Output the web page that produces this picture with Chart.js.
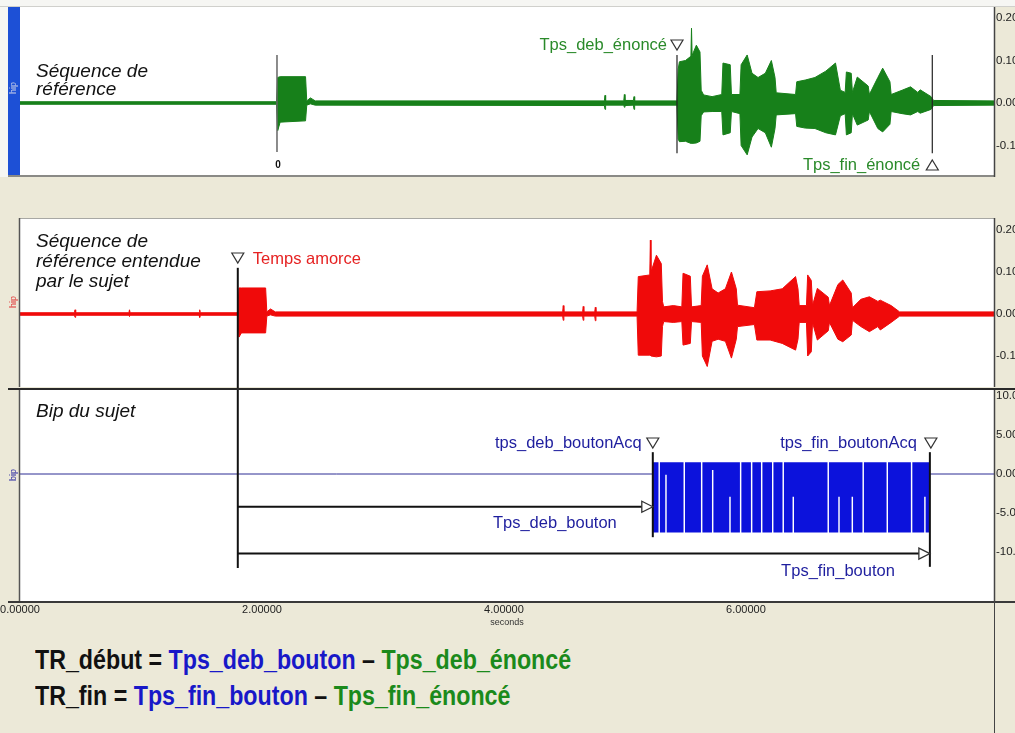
<!DOCTYPE html>
<html>
<head>
<meta charset="utf-8">
<title>TR début / TR fin</title>
<script src="https://cdn.jsdelivr.net/npm/chart.js@4.4.1/dist/chart.umd.min.js"></script>
<style>
  body { margin:0; background:#ece9d8; overflow:hidden; }
  #page { position:relative; width:1015px; height:733px; overflow:hidden; }
  canvas { position:absolute; left:0; }
  .rule { position:absolute; background:#444; }
  .formula { position:absolute; left:35px; font-family:"Liberation Sans", Arial, sans-serif; font-weight:bold;
             font-size:27px; line-height:27px; white-space:nowrap; transform:scaleX(0.86); transform-origin:0 0; color:#111; }
</style>
</head>
<body>
<div id="page">
  <canvas id="top" width="1040" height="178" style="top:0"></canvas>
  <canvas id="mid" width="1040" height="178" style="top:212px"></canvas>
  <canvas id="bot" width="1040" height="241" style="top:390px"></canvas>
  <div class="rule" style="left:994px;top:601px;width:1px;height:132px"></div>
  <div class="formula" style="top:647px">TR_début = <span style="color:#1818c8">Tps_deb_bouton</span> – <span style="color:#1b8a1b">Tps_deb_énoncé</span></div>
  <div class="formula" style="top:683px">TR_fin = <span style="color:#1818c8">Tps_fin_bouton</span> – <span style="color:#1b8a1b">Tps_fin_énoncé</span></div>
</div>
<script>
// reference sequence (green), envelope, seconds / volts
var greenTime = [0,2.12,2.13,2.15,2.36,2.37,2.40,2.44,4.83,4.835,4.84,4.99,4.995,5.00,5.07,5.075,5.08,5.43,5.44,5.45,5.50,5.545,5.55,5.555,5.59,5.62,5.63,5.65,5.72,5.80,5.81,5.87,5.88,5.95,5.96,6.01,6.05,6.10,6.16,6.21,6.24,6.25,6.41,6.42,6.49,6.57,6.66,6.74,6.78,6.82,6.83,6.87,6.88,6.92,7.01,7.02,7.09,7.13,7.19,7.20,7.29,7.36,7.42,7.44,7.53,7.55,8.05];
var greenTop = [.003,.003,.060,.062,.062,.005,.012,.005,.005,.018,.005,.005,.020,.006,.006,.015,.005,.005,.080,.097,.100,.110,.176,.112,.136,.120,.030,.019,.015,.020,.094,.090,.020,.020,.090,.113,.070,.060,.070,.100,.060,.024,.020,.050,.054,.060,.075,.094,.030,.025,.073,.070,.025,.061,.040,.020,.060,.082,.050,.020,.030,.038,.025,.031,.015,.006,.005];
var greenBottom = [-.003,-.003,-.065,-.045,-.042,-.005,-.002,-.005,-.006,-.015,-.005,-.005,-.010,-.006,-.005,-.015,-.005,-.005,-.085,-.091,-.090,-.095,-.095,-.095,-.094,-.090,-.030,-.021,-.020,-.020,-.075,-.070,-.020,-.025,-.100,-.122,-.080,-.060,-.070,-.104,-.060,-.028,-.025,-.055,-.059,-.060,-.070,-.075,-.030,-.025,-.075,-.070,-.025,-.052,-.040,-.020,-.060,-.068,-.050,-.020,-.025,-.028,-.020,-.024,-.015,-.006,-.005];

// sequence heard by the subject (red)
var redTime = [0,0.45,0.455,0.46,0.90,0.905,0.91,1.48,1.485,1.49,1.80,1.81,1.83,2.03,2.04,2.07,2.11,4.485,4.49,4.495,4.65,4.655,4.66,4.75,4.755,4.76,5.10,5.11,5.205,5.21,5.215,5.26,5.30,5.31,5.32,5.40,5.47,5.48,5.54,5.55,5.63,5.64,5.68,5.72,5.77,5.83,5.88,5.92,5.93,6.07,6.09,6.20,6.30,6.41,6.43,6.44,6.50,6.51,6.54,6.55,6.59,6.68,6.69,6.76,6.80,6.87,6.88,6.95,7.02,7.09,7.11,7.20,7.27,8.05];
var redTop = [.003,.003,.010,.003,.003,.010,.003,.003,.010,.003,.003,.062,.062,.062,.005,.012,.005,.005,.020,.005,.005,.018,.005,.005,.016,.005,.005,.089,.093,.176,.100,.140,.120,.030,.017,.020,.017,.097,.090,.017,.020,.090,.117,.060,.050,.060,.100,.060,.021,.015,.053,.055,.060,.089,.060,.020,.020,.093,.080,.020,.061,.040,.020,.070,.081,.050,.015,.035,.041,.030,.033,.020,.005,.005];
var redBottom = [-.003,-.003,-.008,-.003,-.003,-.006,-.003,-.003,-.008,-.003,-.003,-.055,-.045,-.045,-.005,-.002,-.005,-.005,-.015,-.005,-.005,-.015,-.005,-.005,-.016,-.005,-.005,-.098,-.098,-.098,-.100,-.102,-.100,-.030,-.018,-.020,-.018,-.074,-.070,-.018,-.020,-.100,-.125,-.065,-.060,-.065,-.105,-.060,-.030,-.025,-.062,-.062,-.070,-.086,-.060,-.020,-.020,-.100,-.090,-.020,-.062,-.040,-.020,-.060,-.066,-.050,-.015,-.030,-.042,-.030,-.038,-.020,-.005,-.005];

// subject's button (blue): square wave block with dropouts
var bipStart = 5.23, bipEnd = 7.52;
var bipHigh = 1.5, bipLow = -7.5;
var bipGapFull = [5.283,5.490,5.634,5.956,6.047,6.130,6.221,6.308,6.680,6.969,7.168,7.369];
var bipGapPart = [5.339,5.725,5.868,6.391,6.769,6.879,7.479];
var bipGapPartLevel = [-0.1,0.5,-2.9,-2.9,-2.9,-2.9,-2.9];

// markers (s)
var markZero = 2.124, markDebEnonce = 5.43, markFinEnonce = 7.54, markAmorce = 1.80;

var xTicks = [0,2,4,6];
var voltTicks = [0.2,0.1,0,-0.1];
var bipTicks = [10,5,0,-5,-10];

var FONT = '"Liberation Sans", Arial, sans-serif';
Chart.defaults.font.family = FONT;

function band(time, top, bottom, color) {
    return [
        { data: time.map(function (t, i) { return {x: t, y: top[i]}; }), borderColor: color, backgroundColor: color, borderWidth: 1, fill: '+1', pointRadius: 0 },
        { data: time.map(function (t, i) { return {x: t, y: bottom[i]}; }), borderColor: color, borderWidth: 1, fill: false, pointRadius: 0 }
    ];
}

// blue block envelope, built from the dropout lists
function bipBand() {
    var gaps = bipGapFull.map(function (t) { return [t, bipHigh]; })
        .concat(bipGapPart.map(function (t, i) { return [t, bipGapPartLevel[i]]; }))
        .sort(function (a, b) { return a[0] - b[0]; });
    var up = [{x: bipStart, y: bipHigh}], lo = [{x: bipStart, y: bipLow}];
    var w = 0.006;
    gaps.forEach(function (g) {
        up.push({x: g[0] - w, y: bipHigh}); lo.push({x: g[0] - w, y: bipLow});
        up.push({x: g[0] - w, y: bipHigh}); lo.push({x: g[0] - w, y: g[1]});
        up.push({x: g[0] + w, y: bipHigh}); lo.push({x: g[0] + w, y: g[1]});
        up.push({x: g[0] + w, y: bipHigh}); lo.push({x: g[0] + w, y: bipLow});
    });
    up.push({x: bipEnd, y: bipHigh}); lo.push({x: bipEnd, y: bipLow});
    return [
        { data: up, borderWidth: 0, backgroundColor: '#0c12dc', fill: '+1', pointRadius: 0 },
        { data: lo, borderWidth: 0, fill: false, pointRadius: 0 }
    ];
}

function options(yMin, yMax, yTicks, digits, padTop, padBottom, showX) {
    return {
        responsive: false, animation: false, events: [],
        layout: { padding: { left: 20, top: padTop, bottom: padBottom, right: 0 } },
        plugins: { legend: { display: false }, tooltip: { enabled: false } },
        elements: { line: { tension: 0 } },
        scales: {
            x: {
                type: 'linear', min: 0, max: 8.05, display: showX,
                grid: { display: false, drawTicks: false }, border: { display: false },
                afterBuildTicks: function (s) { s.ticks = xTicks.map(function (v) { return {value: v}; }); },
                afterFit: function (s) { s.height = showX ? 30 : 0; s.paddingLeft = 0; s.paddingRight = 0; },
                ticks: { padding: 2, color: '#222', font: { size: 11 }, maxRotation: 0, autoSkip: false,
                         callback: function (v) { return v.toFixed(5); } },
                title: { display: true, text: 'seconds', color: '#333', font: { size: 9 }, padding: { top: 0, bottom: 3 } }
            },
            y: {
                position: 'right', min: yMin, max: yMax,
                grid: { display: false, drawTicks: false }, border: { display: false },
                afterBuildTicks: function (s) { s.ticks = yTicks.map(function (v) { return {value: v}; }); },
                afterFit: function (s) { s.width = 46; s.paddingTop = 0; s.paddingBottom = 0; },
                ticks: { padding: 2, color: '#222', font: { size: 11.5 }, callback: function (v) { return v.toFixed(digits); } }
            }
        }
    };
}

// little drawing helpers
function vline(ctx, x, y1, y2, color, width) {
    ctx.beginPath(); ctx.moveTo(x, y1); ctx.lineTo(x, y2);
    ctx.strokeStyle = color; ctx.lineWidth = width; ctx.stroke();
}
function hline(ctx, x1, x2, y, color, width) {
    ctx.beginPath(); ctx.moveTo(x1, y); ctx.lineTo(x2, y);
    ctx.strokeStyle = color; ctx.lineWidth = width; ctx.stroke();
}
function tri(ctx, x, y, down) {
    ctx.beginPath();
    if (down) { ctx.moveTo(x - 6, y); ctx.lineTo(x + 6, y); ctx.lineTo(x, y + 10); }
    else { ctx.moveTo(x, y); ctx.lineTo(x + 6, y + 10); ctx.lineTo(x - 6, y + 10); }
    ctx.closePath(); ctx.fillStyle = '#fff'; ctx.fill();
    ctx.strokeStyle = '#333'; ctx.lineWidth = 1.2; ctx.stroke();
}
function arrow(ctx, x1, x2, y) {
    hline(ctx, x1, x2 - 10, y, '#111', 2);
    ctx.beginPath(); ctx.moveTo(x2, y); ctx.lineTo(x2 - 11, y - 5.5); ctx.lineTo(x2 - 11, y + 5.5); ctx.closePath();
    ctx.fillStyle = '#fff'; ctx.fill(); ctx.strokeStyle = '#333'; ctx.lineWidth = 1.3; ctx.stroke();
}
function label(ctx, txt, x, y, color, font, align) {
    ctx.font = font; ctx.fillStyle = color; ctx.textAlign = align || 'left'; ctx.textBaseline = 'alphabetic';
    ctx.fillText(txt, x, y);
}
function sideTag(ctx, txt, y, color) {
    ctx.save(); ctx.translate(14, y); ctx.rotate(-Math.PI / 2);
    ctx.font = '9px ' + FONT; ctx.fillStyle = color; ctx.textAlign = 'center'; ctx.textBaseline = 'middle';
    ctx.fillText(txt, 0, 0); ctx.restore();
}
function panel(chart) {
    var a = chart.chartArea, ctx = chart.ctx;
    ctx.fillStyle = '#fff'; ctx.fillRect(a.left, a.top, a.right - a.left, a.bottom - a.top);
}

var TITLE = 'italic 19px ' + FONT, TAG = '16.5px ' + FONT;
var GREEN_TXT = '#2a8a2a', RED_TXT = '#e62222', BLUE_TXT = '#1e1e9e';

// ---- top: reference sequence
new Chart(document.getElementById('top'), {
    type: 'line',
    data: { datasets: band(greenTime, greenTop, greenBottom, '#17801a') },
    options: options(-0.1694, 0.2259, voltTicks, 5, 7, 3, false),
    plugins: [{
        id: 'topDeco',
        beforeDraw: function (chart) {
            var ctx = chart.ctx, a = chart.chartArea;
            ctx.save();
            ctx.fillStyle = '#f6f6f3'; ctx.fillRect(0, 0, 1040, a.top); ctx.fillRect(0, 0, 8, a.bottom + 2);
            hline(ctx, 0, 1040, a.top - 0.5, '#d0d0cc', 1);
            panel(chart);
            ctx.fillStyle = '#1d50d6'; ctx.fillRect(8, a.top, a.left - 8, a.bottom - a.top);
            sideTag(ctx, 'hip', 88, '#c4cce8');
            ctx.restore();
        },
        afterDatasetsDraw: function (chart) {
            var ctx = chart.ctx, x = chart.scales.x, y = chart.scales.y;
            ctx.save();
            vline(ctx, x.getPixelForValue(markZero), y.getPixelForValue(0.113), y.getPixelForValue(-0.115), '#666', 1.5);
            var xd = x.getPixelForValue(markDebEnonce), xf = x.getPixelForValue(markFinEnonce);
            vline(ctx, xd, y.getPixelForValue(0.113), y.getPixelForValue(-0.118), '#222', 1.2);
            vline(ctx, xf, y.getPixelForValue(0.113), y.getPixelForValue(-0.118), '#222', 1.2);
            label(ctx, 'Séquence de', 36, 77, '#111', TITLE);
            label(ctx, 'référence', 36, 95, '#111', TITLE);
            label(ctx, '0', x.getPixelForValue(markZero) + 1, 168, '#111', 'bold 10px ' + FONT, 'center');
            tri(ctx, xd, 40, true);
            label(ctx, 'Tps_deb_énoncé', xd - 10, 50, GREEN_TXT, TAG, 'right');
            tri(ctx, xf, 160, false);
            label(ctx, 'Tps_fin_énoncé', xf - 12, 170, GREEN_TXT, TAG, 'right');
            ctx.restore();
        },
        afterDraw: function (chart) {
            var ctx = chart.ctx, a = chart.chartArea;
            ctx.save();
            hline(ctx, 8, a.right, a.bottom + 1, '#8a8a86', 2);
            vline(ctx, a.right + 0.5, a.top, a.bottom + 2, '#444', 1.5);
            ctx.restore();
        }
    }]
});

// ---- middle: sequence heard by the subject
new Chart(document.getElementById('mid'), {
    type: 'line',
    data: { datasets: band(redTime, redTop, redBottom, '#f00a0a') },
    options: options(-0.1738, 0.2262, voltTicks, 5, 7, 3, false),
    plugins: [{
        id: 'midDeco',
        beforeDraw: function (chart) {
            var ctx = chart.ctx;
            ctx.save(); panel(chart); sideTag(ctx, 'hip', 90, '#e03a3a'); ctx.restore();
        },
        afterDatasetsDraw: function (chart) {
            var ctx = chart.ctx, x = chart.scales.x, y = chart.scales.y, a = chart.chartArea;
            var xa = x.getPixelForValue(markAmorce);
            ctx.save();
            vline(ctx, xa, y.getPixelForValue(0.11), a.bottom + 3, '#111', 2);
            label(ctx, 'Séquence de', 36, 35, '#111', TITLE);
            label(ctx, 'référence entendue', 36, 55, '#111', TITLE);
            label(ctx, 'par le sujet', 36, 75, '#111', TITLE);
            tri(ctx, xa, 41, true);
            label(ctx, 'Temps amorce', xa + 15, 52, RED_TXT, TAG);
            ctx.restore();
        },
        afterDraw: function (chart) {
            var ctx = chart.ctx, a = chart.chartArea;
            ctx.save();
            hline(ctx, a.left, a.right, a.top - 0.5, '#a8a8a4', 1);
            vline(ctx, a.left - 0.5, a.top - 1, a.bottom, '#555', 1.5);
            vline(ctx, a.right + 0.5, a.top - 1, a.bottom, '#444', 1.5);
            hline(ctx, 8, 1040, a.bottom + 2, '#2a2a2a', 2.2);
            ctx.restore();
        }
    }]
});

// ---- bottom: subject's button
var bipBase = [{x: 0, y: 0}, {x: bipStart, y: 0}, {x: bipStart, y: null}, {x: bipEnd, y: null}, {x: bipEnd, y: 0}, {x: 8.05, y: 0}];
new Chart(document.getElementById('bot'), {
    type: 'line',
    data: { datasets: [{ data: bipBase, borderColor: '#2c2c94', borderWidth: 1, pointRadius: 0, fill: false, spanGaps: false }].concat(bipBand()) },
    options: options(-16.28, 10.77, bipTicks, 4, 0, 0, true),
    plugins: [{
        id: 'botDeco',
        beforeDraw: function (chart) {
            var ctx = chart.ctx;
            ctx.save(); panel(chart); sideTag(ctx, 'bip', 85, '#2a2aa0'); ctx.restore();
        },
        afterDatasetsDraw: function (chart) {
            var ctx = chart.ctx, x = chart.scales.x, y = chart.scales.y, a = chart.chartArea;
            var xa = x.getPixelForValue(markAmorce), xd = x.getPixelForValue(bipStart), xf = x.getPixelForValue(bipEnd);
            ctx.save();
            vline(ctx, xa, a.top, y.getPixelForValue(-12.05), '#111', 2);
            vline(ctx, xd, y.getPixelForValue(2.8), y.getPixelForValue(-8.1), '#111', 2);
            vline(ctx, xf, y.getPixelForValue(2.8), y.getPixelForValue(-11.9), '#111', 2);
            arrow(ctx, xa, xd, y.getPixelForValue(-4.2));
            arrow(ctx, xa, xf, y.getPixelForValue(-10.2));
            label(ctx, 'Bip du sujet', 36, 27, '#111', TITLE);
            tri(ctx, xd, 48, true);
            label(ctx, 'tps_deb_boutonAcq', xd - 11, 58, BLUE_TXT, TAG, 'right');
            tri(ctx, xf + 1, 48, true);
            label(ctx, 'tps_fin_boutonAcq', xf - 13, 58, BLUE_TXT, TAG, 'right');
            label(ctx, 'Tps_deb_bouton', xd - 36, 138, BLUE_TXT, TAG, 'right');
            label(ctx, 'Tps_fin_bouton', xf - 35, 186, BLUE_TXT, TAG, 'right');
            ctx.restore();
        },
        afterDraw: function (chart) {
            var ctx = chart.ctx, a = chart.chartArea;
            ctx.save();
            vline(ctx, a.left - 0.5, a.top, a.bottom, '#555', 1.5);
            vline(ctx, a.right + 0.5, a.top, a.bottom, '#444', 1.5);
            hline(ctx, 8, 1040, a.bottom + 1, '#3a3a3a', 2);
            ctx.restore();
        }
    }]
});
</script>
</body>
</html>
